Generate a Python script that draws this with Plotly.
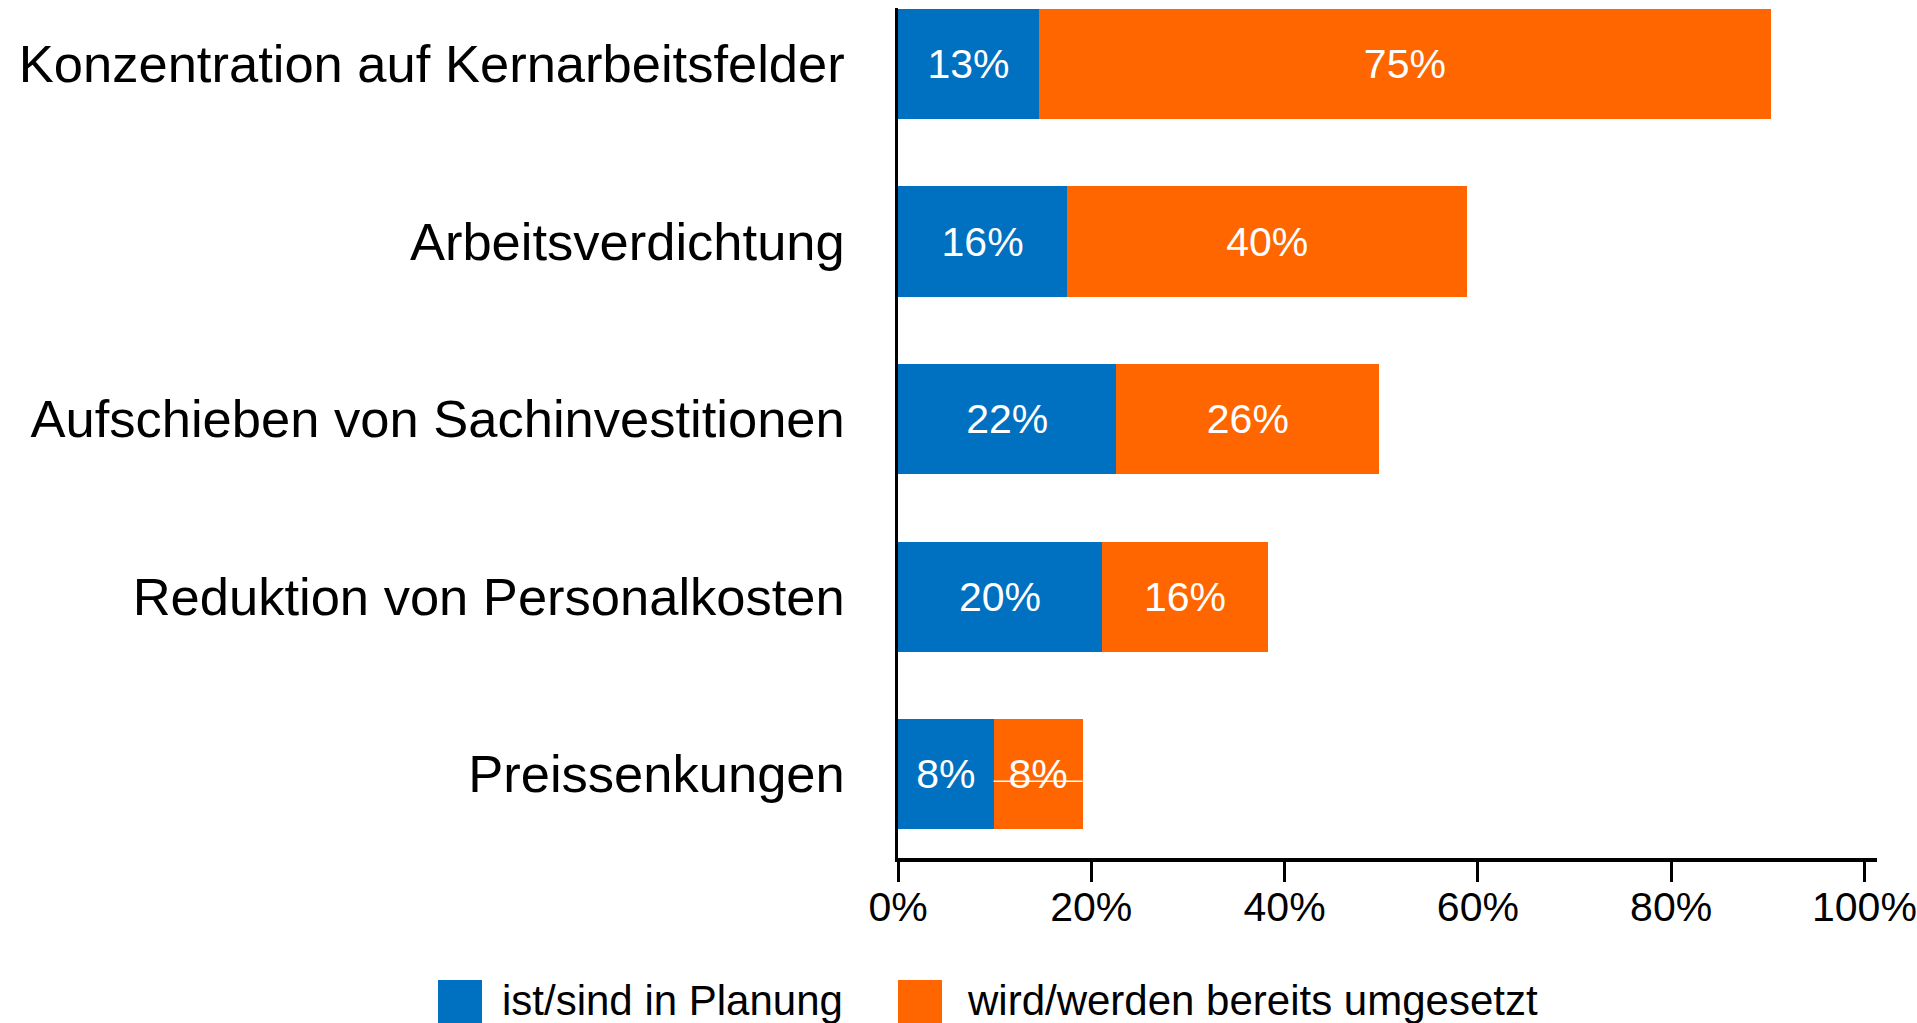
import plotly.graph_objects as go

# ---- data ----
categories = [
    "Konzentration auf Kernarbeitsfelder",
    "Arbeitsverdichtung",
    "Aufschieben von Sachinvestitionen",
    "Reduktion von Personalkosten",
    "Preissenkungen",
]
planung_values = [14.6, 17.5, 22.6, 21.1, 9.9]
umgesetzt_values = [75.7, 41.4, 27.2, 17.2, 9.2]
planung_labels = ["13%", "16%", "22%", "20%", "8%"]
umgesetzt_labels = ["75%", "40%", "26%", "16%", "8%"]
series_names = ["ist/sind in Planung", "wird/werden bereits umgesetzt"]
tick_values = [0, 20, 40, 60, 80, 100]
tick_labels = ["0%", "20%", "40%", "60%", "80%", "100%"]

BLUE = "#0070C0"
ORANGE = "#FF6600"
FONT = "Liberation Sans"

W, H = 1917, 1023
ML, MR, MT, MB = 898, 40, 8, 165

fig = go.Figure()
for vals, labels, name, color in [
    (planung_values, planung_labels, series_names[0], BLUE),
    (umgesetzt_values, umgesetzt_labels, series_names[1], ORANGE),
]:
    fig.add_trace(go.Bar(
        y=categories, x=vals, name=name, orientation="h",
        marker=dict(color=color, line=dict(width=0)),
        width=0.62,
        text=labels, textposition="inside", insidetextanchor="middle",
        textangle=0, constraintext="none",
        insidetextfont=dict(family=FONT, size=41, color="white"),
        showlegend=False,
        hoverinfo="skip",
    ))

# thin white line artifact across the last orange segment
fig.add_shape(type="line", xref="x", yref="y",
              x0=planung_values[4], x1=planung_values[4] + umgesetzt_values[4],
              y0=4.041, y1=4.041, line=dict(color="white", width=1.5))

# manual legend (page pixel -> paper coords)
pw = W - ML - MR
ph = H - MT - MB
def px(x):
    return (x - ML) / pw
def py(y):
    return (H - MB - y) / ph

legend_items = [
    (438, 500, BLUE, series_names[0]),
    (898, 965, ORANGE, series_names[1]),
]
for sx, tx, color, name in legend_items:
    fig.add_shape(type="rect", xref="paper", yref="paper",
                  x0=px(sx), x1=px(sx + 44), y0=py(980), y1=py(1026),
                  fillcolor=color, line=dict(width=0), layer="above")
    fig.add_annotation(xref="paper", yref="paper", x=px(tx), y=py(1000),
                       text=name, showarrow=False, xanchor="left", yanchor="middle",
                       font=dict(family=FONT, size=42, color="black"))

fig.update_layout(
    width=W, height=H,
    barmode="stack",
    plot_bgcolor="white", paper_bgcolor="white",
    margin=dict(l=ML, r=MR, t=MT, b=MB, autoexpand=False),
    font=dict(family=FONT, color="black"),
    xaxis=dict(
        range=[0, 101.3], tickvals=tick_values, ticktext=tick_labels,
        showgrid=False, zeroline=False,
        showline=True, linecolor="black", linewidth=3.5,
        ticks="outside", ticklen=20, tickwidth=2.5, tickcolor="black",
        ticklabelstandoff=-10,
        tickfont=dict(family=FONT, size=41, color="black"),
    ),
    yaxis=dict(
        type="category", categoryorder="array", categoryarray=categories,
        range=[4.473, -0.3155],
        showgrid=False, zeroline=False,
        showline=True, linecolor="black", linewidth=2.5,
        ticks="", ticklabelstandoff=40,
        tickfont=dict(family=FONT, size=52.5, color="black"),
    ),
)

fig.write_html(
    "out.html",
    config={"displayModeBar": False},
    post_script="document.body.style.margin='0';document.body.style.overflow='hidden';",
)
